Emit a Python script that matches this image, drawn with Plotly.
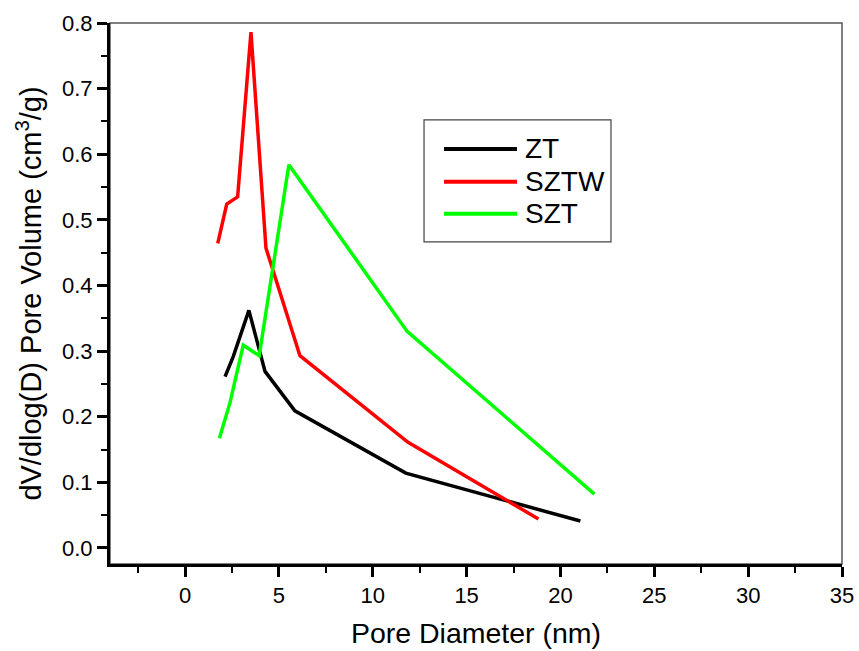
import plotly.graph_objects as go

# Pore size distribution (BJH) for three samples
zt_diameter = [2.13, 2.57, 3.40, 4.26, 5.85, 11.76, 21.06]
zt_volume = [0.261, 0.292, 0.362, 0.269, 0.209, 0.114, 0.041]

sztw_diameter = [1.74, 2.22, 2.80, 3.51, 4.31, 6.12, 11.88, 18.83]
sztw_volume = [0.464, 0.524, 0.535, 0.786, 0.457, 0.293, 0.161, 0.044]

szt_diameter = [1.83, 2.39, 3.10, 3.95, 5.53, 11.83, 21.81]
szt_volume = [0.167, 0.221, 0.309, 0.293, 0.584, 0.330, 0.082]

series_names = ["ZT", "SZTW", "SZT"]
series_colors = ["#000000", "#ff0000", "#00ff00"]

x_ticks = [0, 5, 10, 15, 20, 25, 30, 35]
y_ticks = [0.0, 0.1, 0.2, 0.3, 0.4, 0.5, 0.6, 0.7, 0.8]

FONT = "Liberation Sans, Arial, sans-serif"

fig = go.Figure()
for name, xs, ys, color in zip(
    series_names,
    [zt_diameter, sztw_diameter, szt_diameter],
    [zt_volume, sztw_volume, szt_volume],
    series_colors,
):
    fig.add_trace(go.Scatter(x=xs, y=ys, mode="lines", name=name, showlegend=False,
                             line=dict(color=color, width=3.5)))

# thin grey frame on the top and right sides
fig.add_shape(type="rect", xref="paper", yref="paper", x0=0, x1=1, y0=0, y1=1,
              line=dict(color="#555555", width=1.5), layer="below")

# legend box with line samples and labels (paper coordinates)
legend_box = dict(x0=0.429, x1=0.6844, y0=0.5956, y1=0.8209)
legend_rows_y = [0.7673, 0.7064, 0.6473]
fig.add_shape(type="rect", xref="paper", yref="paper", **legend_box,
              line=dict(color="#444444", width=1.2), fillcolor="white", layer="below")
for name, color, ry in zip(series_names, series_colors, legend_rows_y):
    fig.add_shape(type="line", xref="paper", yref="paper",
                  x0=0.4563, x1=0.5560, y0=ry, y1=ry,
                  line=dict(color=color, width=4))
    fig.add_annotation(xref="paper", yref="paper", x=0.5642, y=ry,
                       xanchor="left", yanchor="middle", showarrow=False,
                       text=name, font=dict(size=28, family=FONT, color="black"))

fig.update_layout(
    width=859, height=651,
    margin=dict(l=110, r=17, t=23, b=86.5),
    paper_bgcolor="white", plot_bgcolor="white",
    font=dict(family=FONT, color="black"),
    xaxis=dict(
        range=[-4, 35], tickvals=x_ticks, ticktext=[str(v) for v in x_ticks],
        automargin=False,
        showgrid=False, zeroline=False,
        showline=True, linecolor="black", linewidth=3,
        ticks="outside", ticklen=10, tickwidth=3, tickcolor="black",
        tickfont=dict(size=22, family=FONT),
        minor=dict(dtick=2.5, tick0=0, ticks="outside", ticklen=6, tickwidth=2,
                   tickcolor="black", showgrid=False),
        title=dict(text="Pore Diameter (nm)", font=dict(size=28.5, family=FONT),
                   standoff=16),
    ),
    yaxis=dict(
        range=[-0.0245, 0.8], tickvals=y_ticks, ticktext=[f"{v:.1f}" for v in y_ticks],
        automargin=False,
        showgrid=False, zeroline=False,
        showline=True, linecolor="black", linewidth=3,
        ticks="outside", ticklen=10, tickwidth=3, tickcolor="black",
        tickfont=dict(size=22, family=FONT),
        minor=dict(dtick=0.05, tick0=0, ticks="outside", ticklen=6, tickwidth=2,
                   tickcolor="black", showgrid=False),
        title=dict(text="dV/dlog(D) Pore Volume (cm<sup>3</sup>/g)",
                   font=dict(size=29, family=FONT), standoff=12),
    ),
)

fig.write_html("out.html")
